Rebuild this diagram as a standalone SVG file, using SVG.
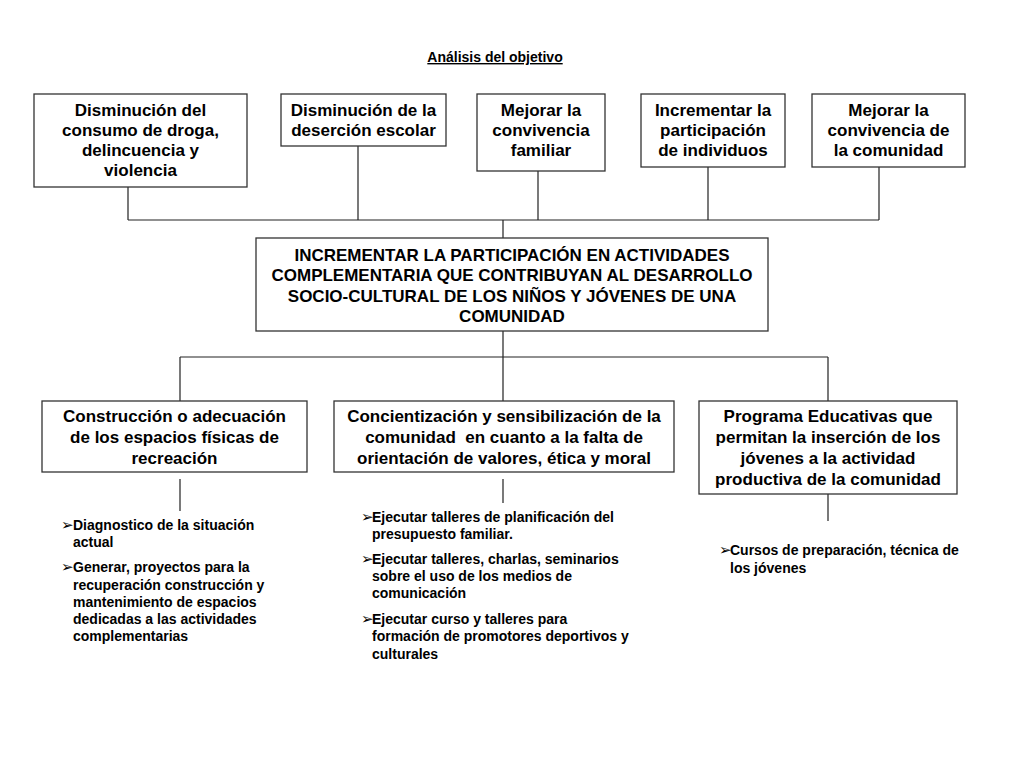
<svg xmlns="http://www.w3.org/2000/svg" width="1024" height="768" viewBox="0 0 1024 768">
<style>
.bg{fill:#fff}
.box{fill:#fff;stroke:#333;stroke-width:1.3}
.t{font-family:"Liberation Sans",Arial,sans-serif;font-weight:bold;font-size:17px;fill:#000;text-anchor:middle}
.title{font-family:"Liberation Sans",Arial,sans-serif;font-weight:bold;font-size:14px;fill:#000;text-anchor:middle;text-decoration:underline}
.li{font-family:"Liberation Sans",Arial,sans-serif;font-weight:bold;font-size:14px;fill:#000}
.ar{font-family:"DejaVu Sans",sans-serif;font-size:15px;fill:#000}
.c{stroke:#222;stroke-width:1.2;fill:none}
</style>
<rect class="bg" x="0" y="0" width="1024" height="768"/>
<text class="title" x="495" y="62">Análisis del objetivo</text>

<g id="connectors">
<path class="c" d="M128 187V220M358 146V220M538 171V220M708 167V220M879 167V220M128 220H879M503 220V238"/>
<path class="c" d="M503 331V357M180 357H828M180 357V401M503 357V401M828 357V401"/>
<path class="c" d="M180 479V511M503 479V503M828 494V521"/>
</g>

<g id="n1"><rect class="box" x="34" y="94" width="213" height="93"/>
<text class="t" x="140.5" y="116">Disminución del</text>
<text class="t" x="140.5" y="136">consumo de droga,</text>
<text class="t" x="140.5" y="156">delincuencia y</text>
<text class="t" x="140.5" y="176">violencia</text></g>

<g id="n2"><rect class="box" x="281" y="94" width="165" height="52"/>
<text class="t" x="363.5" y="116">Disminución de la</text>
<text class="t" x="363.5" y="136">deserción escolar</text></g>

<g id="n3"><rect class="box" x="477" y="94" width="128" height="77"/>
<text class="t" x="541" y="116">Mejorar la</text>
<text class="t" x="541" y="136">convivencia</text>
<text class="t" x="541" y="156">familiar</text></g>

<g id="n4"><rect class="box" x="641" y="94" width="144" height="73"/>
<text class="t" x="713" y="116">Incrementar la</text>
<text class="t" x="713" y="136">participación</text>
<text class="t" x="713" y="156">de individuos</text></g>

<g id="n5"><rect class="box" x="812" y="94" width="153" height="73"/>
<text class="t" x="888.5" y="116">Mejorar la</text>
<text class="t" x="888.5" y="136">convivencia de</text>
<text class="t" x="888.5" y="156">la comunidad</text></g>

<g id="center"><rect class="box" x="256" y="238" width="512" height="93"/>
<text class="t" x="512" y="261">INCREMENTAR LA PARTICIPACIÓN EN ACTIVIDADES</text>
<text class="t" x="512" y="281">COMPLEMENTARIA QUE CONTRIBUYAN AL DESARROLLO</text>
<text class="t" x="512" y="302">SOCIO-CULTURAL DE LOS NIÑOS Y JÓVENES DE UNA</text>
<text class="t" x="512" y="322">COMUNIDAD</text></g>

<g id="a"><rect class="box" x="42" y="401" width="265" height="71"/>
<text class="t" x="174.5" y="422">Construcción o adecuación</text>
<text class="t" x="174.5" y="443">de los espacios físicas de</text>
<text class="t" x="174.5" y="464">recreación</text></g>

<g id="b"><rect class="box" x="334" y="401" width="340" height="71"/>
<text class="t" x="504" y="422">Concientización y sensibilización de la</text>
<text class="t" x="504" y="443" style="white-space:pre">comunidad  en cuanto a la falta de</text>
<text class="t" x="504" y="464">orientación de valores, ética y moral</text></g>

<g id="c"><rect class="box" x="699" y="401" width="258" height="93"/>
<text class="t" x="828" y="422">Programa Educativas que</text>
<text class="t" x="828" y="443">permitan la inserción de los</text>
<text class="t" x="828" y="464">jóvenes a la actividad</text>
<text class="t" x="828" y="485">productiva de la comunidad</text></g>

<g id="listA">
<text class="ar" x="61" y="530">➢</text>
<text class="li" x="73" y="530">Diagnostico de la situación</text>
<text class="li" x="73" y="547">actual</text>
<text class="ar" x="61" y="572">➢</text>
<text class="li" x="73" y="572">Generar, proyectos para la</text>
<text class="li" x="73" y="590">recuperación construcción y</text>
<text class="li" x="73" y="607">mantenimiento de espacios</text>
<text class="li" x="73" y="624">dedicadas a las actividades</text>
<text class="li" x="73" y="641">complementarias</text>
</g>

<g id="listB">
<text class="ar" x="361" y="522">➢</text>
<text class="li" x="372" y="522">Ejecutar talleres de planificación del</text>
<text class="li" x="372" y="539">presupuesto familiar.</text>
<text class="ar" x="361" y="564">➢</text>
<text class="li" x="372" y="564">Ejecutar talleres, charlas, seminarios</text>
<text class="li" x="372" y="581">sobre el uso de los medios de</text>
<text class="li" x="372" y="598">comunicación</text>
<text class="ar" x="361" y="624">➢</text>
<text class="li" x="372" y="624">Ejecutar curso y talleres para</text>
<text class="li" x="372" y="641">formación de promotores deportivos y</text>
<text class="li" x="372" y="659">culturales</text>
</g>

<g id="listC">
<text class="ar" x="719" y="555">➢</text>
<text class="li" x="730" y="555">Cursos de preparación, técnica de</text>
<text class="li" x="730" y="573">los jóvenes</text>
</g>
</svg>
